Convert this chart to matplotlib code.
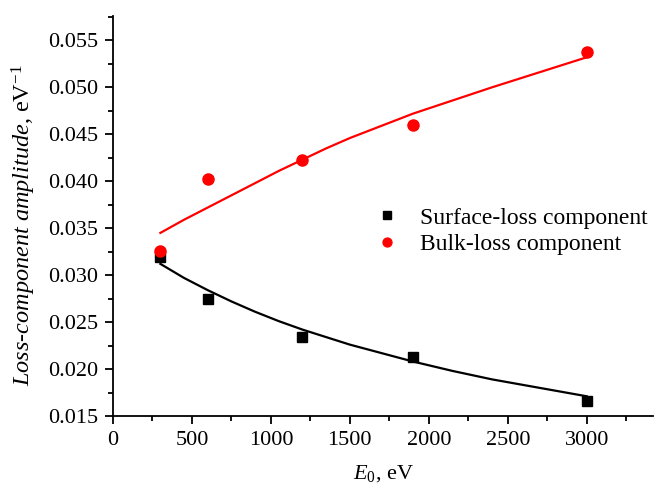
import matplotlib
matplotlib.use("Agg")
import matplotlib.pyplot as plt
from matplotlib.ticker import MultipleLocator, FormatStrFormatter

plt.rcParams['font.family'] = ['Liberation Serif', 'DejaVu Serif']
plt.rcParams['mathtext.fontset'] = 'custom'
plt.rcParams['mathtext.rm'] = 'Liberation Serif'
plt.rcParams['mathtext.it'] = 'Liberation Serif:italic'

# measured amplitudes
energy = [300, 600, 1200, 1900, 3000]
surface = [0.0319, 0.02745, 0.02337, 0.02125, 0.01663]
bulk = [0.03259, 0.04029, 0.04223, 0.04603, 0.05376]

# fit curves
fit_energy = [300, 450, 600, 750, 900, 1050, 1200, 1350, 1500, 1700, 1900, 2150, 2400, 2700, 3000]
surface_fit = [0.0312, 0.0297, 0.0284, 0.0272, 0.0261, 0.0251, 0.0242, 0.0234, 0.0226,
               0.0217, 0.0208, 0.0198, 0.0189, 0.0180, 0.0171]
bulk_fit = [0.0345, 0.0359, 0.0372, 0.0385, 0.0398, 0.0411, 0.0423, 0.0435, 0.0446,
            0.0459, 0.0472, 0.0486, 0.0500, 0.0516, 0.0532]

fig = plt.figure(figsize=(6.54, 4.93), dpi=100)
ax = fig.add_axes([0.1728, 0.1562, 0.8257, 0.8114])

ax.plot(fit_energy, surface_fit, color="black", lw=1.6)
ax.plot(fit_energy, bulk_fit, color="red", lw=1.6)
ax.plot(energy, surface, "s", color="black", ms=7.5, label="Surface-loss component")
ax.plot(energy, bulk, "o", color="red", ms=8, label="Bulk-loss component")

ax.set_xlim(0, 3420)
ax.set_ylim(0.015, 0.0576)
ax.xaxis.set_major_locator(MultipleLocator(500))
ax.xaxis.set_minor_locator(MultipleLocator(250))
ax.yaxis.set_major_locator(MultipleLocator(0.005))
ax.yaxis.set_minor_locator(MultipleLocator(0.0025))
ax.yaxis.set_major_formatter(FormatStrFormatter("%.3f"))

for s in ["top", "right"]:
    ax.spines[s].set_visible(False)
for s in ["left", "bottom"]:
    ax.spines[s].set_linewidth(1.3)
ax.tick_params(which="major", direction="out", length=6, width=1.3, labelsize=16, pad=4.5)
ax.tick_params(which="minor", direction="out", length=3.5, width=1.3)

ax.set_xlabel(r"$E_0$, eV", fontsize=16, labelpad=10)
ax.set_ylabel(r"$\mathit{Loss}$-$\mathit{component\ amplitude}$, eV$^{-1}$", fontsize=17.5, va="center")
ax.yaxis.set_label_coords(-0.165, 0.4775)

ax.legend(loc="center left", bbox_to_anchor=(0.486, 0.462), frameon=False, fontsize=17,
          handletextpad=0.9, labelspacing=0.22, handlelength=1.0, borderpad=0,
          borderaxespad=0, markerscale=0.8)

fig.savefig("out.png", dpi=100)
